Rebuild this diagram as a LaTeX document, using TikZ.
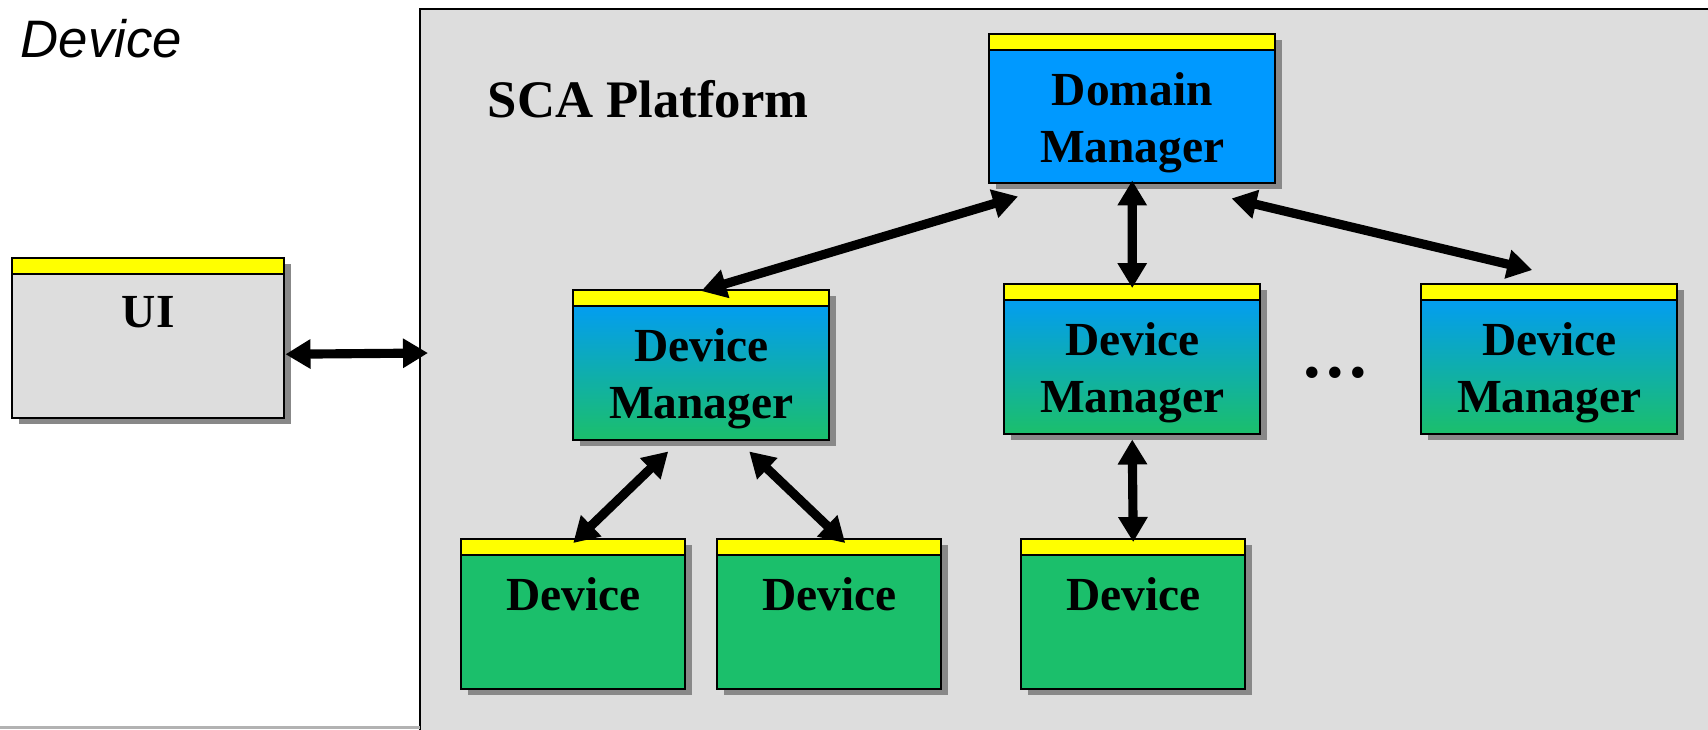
\documentclass[tikz,border=0pt]{standalone}
\usepackage{fontspec}
\setmainfont{Liberation Serif}
\newfontfamily\arialfont{Liberation Sans}
\usepackage{xcolor}
\definecolor{PlatformGrey}{HTML}{DDDDDD}
\definecolor{BandYellow}{HTML}{FFFF00}
\definecolor{ManagerBlue}{HTML}{0099FF}
\definecolor{DeviceGreen}{HTML}{1BBF6B}
\definecolor{ShadowGrey}{HTML}{888888}
\usepackage{tikz}
\usetikzlibrary{arrows.meta, positioning, shadows}

\tikzset{
	box/.style={draw, line width=0.7pt, anchor=north west,
		drop shadow={shadow xshift=0.07cm, shadow yshift=-0.06cm, fill=ShadowGrey, opacity=1},
		path picture={\fill[BandYellow] (path picture bounding box.north west) rectangle ([yshift=-0.16cm]path picture bounding box.north east);
			\draw[line width=0.7pt] ([yshift=-0.16cm]path picture bounding box.north west) -- ([yshift=-0.16cm]path picture bounding box.north east);}},
	uibox/.style={box, fill=PlatformGrey, minimum width=2.72cm, minimum height=1.60cm},
	dombox/.style={box, fill=ManagerBlue, minimum width=2.86cm, minimum height=1.49cm},
	mgrbox/.style={box, top color=ManagerBlue, bottom color=DeviceGreen, minimum width=2.56cm, minimum height=1.50cm},
	devbox/.style={box, fill=DeviceGreen, minimum width=2.24cm, minimum height=1.50cm},
	lbl/.style={font=\bfseries\fontsize{13.5}{16.2}\selectfont, align=center, inner sep=0pt},
	link/.style={line width=2.6pt, {Triangle[length=0.25cm, width=0.28cm]}-{Triangle[length=0.25cm, width=0.28cm]}}
}

\begin{document}
\begin{tikzpicture}
			\clip (0,0) rectangle (17.08,-7.29);
			\fill[white] (0,0) rectangle (17.08,-7.29);
			\filldraw[fill=PlatformGrey, line width=0.6pt] (4.20,-0.09) rectangle (17.4,-7.6);
			\fill[gray!60] (0,-7.26) rectangle (4.20,-7.29);
			\node[font=\arialfont\itshape\fontsize{15}{18}\selectfont, anchor=base west, inner sep=0pt] (devicetitle) at (0.20,-0.57) {Device};
			\node[font=\bfseries\fontsize{15}{18}\selectfont, anchor=base west, inner sep=0pt] (scatitle) at (4.87,-1.17) {SCA Platform};
			\coordinate (scaedge) at (4.28,-3.53);

			\node[uibox] (ui) at (0.11,-2.57) {};
			\node[dombox] (dom) at (9.88,-0.33) {};
			\node[mgrbox] (dm1) at (5.72,-2.89) {};
			\node[mgrbox] (dm2) at (10.03,-2.83) {};
			\node[mgrbox] (dm3) at (14.20,-2.83) {};
			\node[devbox] (dev1) at (4.60,-5.38) {};
			\node[devbox] (dev2) at (7.16,-5.38) {};
			\node[devbox] (dev3) at (10.20,-5.38) {};

			\node[lbl, below=0.39cm of ui.north] (uitext) {UI};
			\node[lbl, below=0.39cm of dom.north] (domtext) {Domain\\Manager};
			\node[lbl, below=0.39cm of dm1.north] (dm1text) {Device\\Manager};
			\node[lbl, below=0.39cm of dm2.north] (dm2text) {Device\\Manager};
			\node[lbl, below=0.39cm of dm3.north] (dm3text) {Device\\Manager};
			\node[lbl, below=0.39cm of dev1.north] (dev1text) {Device};
			\node[lbl, below=0.39cm of dev2.north] (dev2text) {Device};
			\node[lbl, below=0.39cm of dev3.north] (dev3text) {Device};
			\node[lbl, font=\bfseries\fontsize{20}{22}\selectfont, anchor=base] (dots) at (13.35,-3.77) {.\kern0.08em.\kern0.08em.};

			\draw[link] ([yshift=-0.16cm]ui.east) -- (scaedge);
			\draw[link] ([xshift=0.30cm, yshift=-0.12cm]dom.south west) -- ([yshift=-0.02cm]dm1.north);
			\draw[link] ([yshift=0.04cm]dom.south) -- ([yshift=-0.05cm]dm2.north);
			\draw[link] ([xshift=-0.45cm, yshift=-0.14cm]dom.south east) -- ([xshift=-0.17cm, yshift=0.13cm]dm3.north);
			\draw[link] ([xshift=-0.33cm, yshift=-0.10cm]dm1.south) -- ([yshift=-0.05cm]dev1.north);
			\draw[link] ([xshift=0.48cm, yshift=-0.10cm]dm1.south) -- ([xshift=0.16cm, yshift=-0.05cm]dev2.north);
			\draw[link] ([yshift=-0.04cm]dm2.south) -- ([yshift=-0.04cm]dev3.north);
\end{tikzpicture}
\end{document}
